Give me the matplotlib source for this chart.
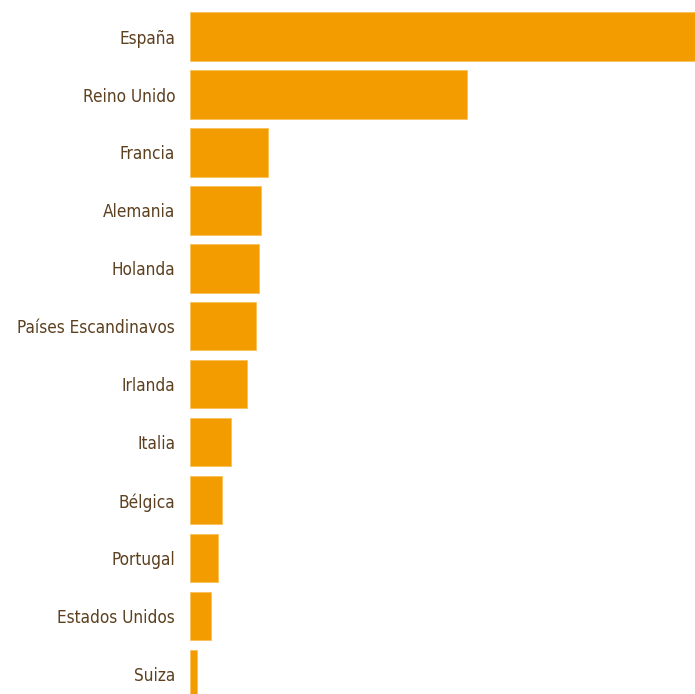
import matplotlib
matplotlib.use("Agg")
import matplotlib.pyplot as plt

# data (arbitrary units, proportional to bar lengths)
countries = ["España", "Reino Unido", "Francia", "Alemania", "Holanda",
             "Países Escandinavos", "Irlanda", "Italia", "Bélgica",
             "Portugal", "Estados Unidos", "Suiza"]
values = [50.5, 27.7, 7.8, 7.1, 6.9, 6.6, 5.7, 4.1, 3.2, 2.8, 2.1, 0.7]

plt.rcParams['font.family'] = ['DejaVu Sans']
plt.rcParams['font.stretch'] = 'condensed'

fig = plt.figure(figsize=(6.95, 6.94), dpi=100)
ax = fig.add_axes([190 / 695, 0, 1 - 190 / 695, 1])

pos = list(range(len(countries)))
ax.barh(pos, values, height=0.83, color="#F39C00", edgecolor="#F8C15A", linewidth=0.6)

ax.set_yticks(pos)
ax.set_yticklabels(countries, color="#5C4020", fontsize=12.3)
ax.tick_params(axis="y", length=0, pad=10.8)
ax.set_xticks([])
ax.set_xlim(0, values[0])
ax.set_ylim(11.34, -0.63)
for s in ax.spines.values():
    s.set_visible(False)

fig.savefig("out.png", dpi=100)
